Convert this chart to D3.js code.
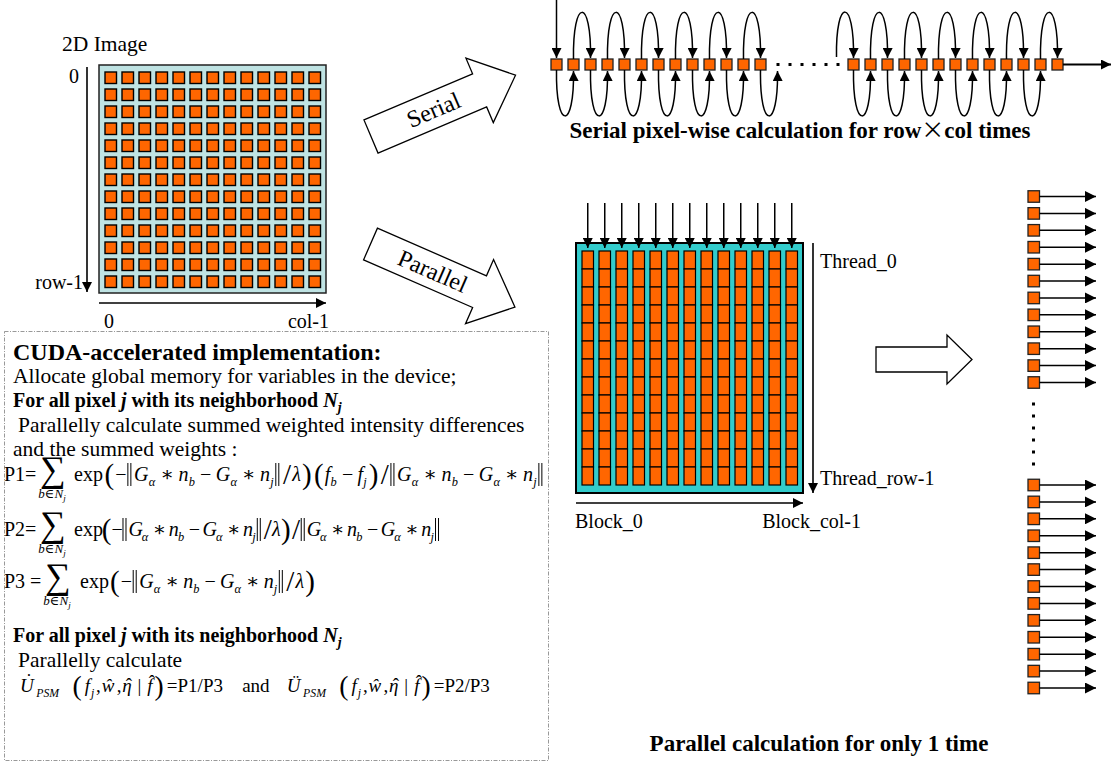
<!DOCTYPE html>
<html>
<head>
<meta charset="utf-8">
<script src="https://cdn.jsdelivr.net/npm/d3@7"></script>
<style>
body { margin: 0; background: #fff; }
svg text { font-family: "Liberation Serif", "Times New Roman", "DejaVu Serif", serif; fill: #000; }
</style>
</head>
<body>
<svg id="fig" width="1112" height="763"></svg>
<script>
// ---- diagram content ----
const imageRows = [0, 1, 2, 3, 4, 5, 6, 7, 8, 9, 10, 11, 12]
const imageCols = [0, 1, 2, 3, 4, 5, 6, 7, 8, 9, 10, 11, 12]
const serialPixels = [0, 1, 2, 3, 4, 5, 6, 7, 8, 9, 10, 11, 12]
const serialGroups = ['first', 'last']
const serialDots = [0, 1, 2, 3, 4, 5]
const blockCols = [0, 1, 2, 3, 4, 5, 6, 7, 8, 9, 10, 11, 12]
const threadRows = [0, 1, 2, 3, 4, 5, 6, 7, 8, 9, 10, 11, 12]
const outputTop = [0, 1, 2, 3, 4, 5, 6, 7, 8, 9, 10, 11]
const outputBottom = [0, 1, 2, 3, 4, 5, 6, 7, 8, 9, 10, 11, 12]
const outputDots = [0, 1, 2, 3, 4, 5]

const imageLabels = ['2D Image', '0', 'row-1', '0', 'col-1']
const threadLabels = ['Thread_0', 'Thread_row-1']
const blockLabels = ['Block_0', 'Block_col-1']
const flowLabels = ['Serial', 'Parallel']
const serialCaption = ['Serial pixel-wise calculation for row', '\u00d7', 'col times']
const parallelCaption = 'Parallel calculation for only 1 time'

const textLines = [
  'CUDA-accelerated implementation:',
  'Allocate global memory for variables in the device;',
  'Parallelly calculate summed weighted intensity differences',
  'and the summed weights :',
  'Parallelly calculate'
]

// formula tokens: [text, kind, accent, accent lift]
const normDiff = [['G','i'],['\u03b1','s'],['\u2217','op'],['n','i'],['b','s'],['\u2212','op'],['G','i'],['\u03b1','s'],['\u2217','op'],['n','i'],['j','s']]
const p1Tokens = [['exp','r'],['(','big'],['\u2212','r'],['','norm']].concat(normDiff,
  [['','norm'],['/','big'],['\u03bb','i'],[')','big'],['(','big'],['f','i'],['b','s'],['\u2212','op'],['f','i'],['j','s'],[')','big'],['/','big'],['','norm']],
  normDiff, [['','norm']])
const p2Tokens = [['exp','r'],['(','big'],['\u2212','r'],['','norm']].concat(normDiff,
  [['','norm'],['/','big'],['\u03bb','i'],[')','big'],['/','big'],['','norm']], normDiff, [['','norm']])
const p3Tokens = [['exp','r'],['(','big'],['\u2212','r'],['','norm']].concat(normDiff,
  [['','norm'],['/','big'],['\u03bb','i'],[')','big']])
const uArgs = [['(','big'],['f','i'],['j','s'],[',','r'],['\u0175','i'],[',','r'],['\u03b7','i','\u02c6',1],['|','op'],['f','i','\u02c6',4],[')','big']]
const uTokens = [['U','i','\u02d9',5],['PSM','s'],['','gap']].concat(uArgs,
  [['=P1/P3','r'],['and','pad'],['\u00dc','i'],['PSM','s'],['','gap']], uArgs, [['=P2/P3','r']])
const sumNames = ['P1=', 'P2=', 'P3 = ']

// ---- drawing ----
const svg = d3.select('#fig')
const orange = '#ff6600'

const defs = svg.append('defs')
function marker(id, w, l) {
  defs.append('marker')
    .attr('id', id)
    .attr('viewBox', '0 0 10 10')
    .attr('refX', 10).attr('refY', 5)
    .attr('markerUnits', 'userSpaceOnUse')
    .attr('markerWidth', l).attr('markerHeight', w)
    .attr('orient', 'auto')
    .append('path').attr('d', 'M0,0L10,5L0,10Z').attr('fill', '#000')
}
marker('loop', 10, 11)
marker('big', 10, 12)
marker('out', 11, 11)

function arrowLine(g, x1, y1, x2, y2, m, w) {
  g.append('line')
    .attr('x1', x1).attr('y1', y1).attr('x2', x2).attr('y2', y2)
    .attr('stroke', '#000').attr('stroke-width', w || 1.5)
    .attr('marker-end', `url(#${m})`)
}

// 2D image
const imgX = d3.scaleLinear().domain([0, 12]).range([105, 309])
const imgY = d3.scaleLinear().domain([0, 12]).range([72, 276])
const image = svg.append('g')
image.append('rect').attr('x', 99).attr('y', 65).attr('width', 227).attr('height', 228)
  .attr('fill', '#bfe3e3').attr('stroke', '#222').attr('stroke-width', 1.5)
image.selectAll('g.row').data(imageRows).enter().append('g')
  .selectAll('rect').data(r => imageCols.map(c => [r, c])).enter().append('rect')
  .attr('x', d => imgX(d[1])).attr('y', d => imgY(d[0]))
  .attr('width', 11.5).attr('height', 11.5)
  .attr('fill', orange).attr('stroke', '#000').attr('stroke-width', 1.4)
arrowLine(image, 87, 67, 87, 292, 'big', 1.6)
arrowLine(image, 99, 303, 326, 303, 'big', 1.6)
image.append('text').attr('x', 62).attr('y', 51).style('font-size', '21.5px').text(imageLabels[0])
image.append('text').attr('x', 79).attr('y', 83).attr('text-anchor', 'end').style('font-size', '20px').text(imageLabels[1])
image.append('text').attr('x', 83).attr('y', 289).attr('text-anchor', 'end').style('font-size', '20px').text(imageLabels[2])
image.append('text').attr('x', 104).attr('y', 328).style('font-size', '20px').text(imageLabels[3])
image.append('text').attr('x', 329).attr('y', 328).attr('text-anchor', 'end').style('font-size', '20px').text(imageLabels[4])

// hollow flow arrows
function hollowArrow(label, cx, cy, angle, L, h1, h2, head, textT) {
  const g = svg.append('g').attr('transform', `translate(${cx},${cy}) rotate(${angle})`)
  const pts = [[0, -h1], [L - head, -h1], [L - head, -h2], [L, 0], [L - head, h2], [L - head, h1], [0, h1]]
  g.append('path').attr('d', d3.line()(pts) + 'Z')
    .attr('fill', '#fff').attr('stroke', '#000').attr('stroke-width', 1.3)
  g.append('text').attr('x', textT).attr('y', 8).attr('text-anchor', 'middle')
    .style('font-size', '24px').text(label)
}
hollowArrow(flowLabels[0], 371, 136.5, -23, 157, 18, 35, 39, 68)
hollowArrow(flowLabels[1], 370.5, 244, 23.6, 157.6, 17.3, 35, 38.6, 68)

// serial row
const serial = svg.append('g')
const groupX = [
  d3.scaleLinear().domain([0, 12]).range([551, 755]),
  d3.scaleLinear().domain([0, 12]).range([848, 1052])
]
const sq = 11, sTop = 59, sBot = 70
serialGroups.forEach((name, gi) => {
  const x = groupX[gi]
  const cx = i => x(i) + sq / 2
  serial.selectAll(`rect.${name}`).data(serialPixels).enter().append('rect')
    .attr('class', name)
    .attr('x', d => x(d)).attr('y', sTop).attr('width', sq).attr('height', sq)
    .attr('fill', orange).attr('stroke', '#222').attr('stroke-width', 1.3)
  const pairs = gi === 0 ? serialPixels : [-1].concat(serialPixels.slice(0, 12))
  pairs.forEach(i => {
    const top = Math.abs(i % 2) === 1
    const x1 = cx(i), x2 = cx(i + 1)
    const d = top
      ? `M${x1},${i < 0 ? sTop - 2 : sTop}C${x1 - 1},-3 ${x2 + 1},-3 ${x2},${sTop - 1}`
      : `M${x1},${sBot}C${x1 - 1},131 ${x2 + 1},131 ${x2},${sBot + 1}`
    serial.append('path').attr('d', d).attr('fill', 'none')
      .attr('stroke', '#000').attr('stroke-width', 1.5).attr('marker-end', 'url(#loop)')
  })
})
arrowLine(serial, groupX[0](0) + sq / 2, 0, groupX[0](0) + sq / 2, sTop - 1, 'loop')
arrowLine(serial, groupX[1](12) + sq, 64.5, 1111, 64.5, 'loop', 1.8)
const dotX = d3.scaleLinear().domain([0, 5]).range([778, 838])
serial.selectAll('rect.dot').data(serialDots).enter().append('rect')
  .attr('class', 'dot').attr('x', d => dotX(d) - 1.5).attr('y', 63).attr('width', 3).attr('height', 3).attr('fill', '#000')
const cap0 = svg.append('text').attr('x', 800).attr('y', 138).attr('text-anchor', 'middle')
  .style('font-size', '23px').style('font-weight', 'bold')
cap0.append('tspan').text(serialCaption[0])
cap0.append('tspan').style('font-family', '"Noto Sans CJK SC", sans-serif').style('font-weight', 'normal').text(serialCaption[1])
cap0.append('tspan').text(serialCaption[2])

// parallel grid
const par = svg.append('g')
const blockX = d3.scaleLinear().domain([0, 12]).range([582, 786])
const threadY = d3.scaleLinear().domain([0, 13]).range([251, 485])
par.append('rect').attr('x', 576).attr('y', 243).attr('width', 227).attr('height', 250)
  .attr('fill', '#33cccc').attr('stroke', '#000').attr('stroke-width', 2)
blockCols.forEach(c => {
  par.selectAll(`rect.c${c}`).data(threadRows).enter().append('rect')
    .attr('x', blockX(c)).attr('y', d => threadY(d))
    .attr('width', 11.5).attr('height', threadY(1) - threadY(0))
    .attr('fill', orange).attr('stroke', '#000').attr('stroke-width', 1.2)
  arrowLine(par, blockX(c) + 5.75, 203, blockX(c) + 5.75, 248, 'big', 1.5)
})
arrowLine(par, 813, 243, 813, 493, 'big', 1.6)
arrowLine(par, 576, 503, 803, 503, 'big', 1.6)
par.append('text').attr('x', 820).attr('y', 268).style('font-size', '20px').text(threadLabels[0])
par.append('text').attr('x', 820).attr('y', 485).style('font-size', '20px').text(threadLabels[1])
par.append('text').attr('x', 575).attr('y', 528).style('font-size', '20px').text(blockLabels[0])
par.append('text').attr('x', 861).attr('y', 528).attr('text-anchor', 'end').style('font-size', '20px').text(blockLabels[1])

// big right arrow
svg.append('path')
  .attr('d', d3.line()([[876, 347], [947, 347], [947, 335], [972, 359.5], [947, 384], [947, 372], [876, 372]]) + 'Z')
  .attr('fill', '#fff').attr('stroke', '#000').attr('stroke-width', 1.3)

// output column
const out = svg.append('g')
const topY = d3.scaleLinear().domain([0, 11]).range([196.5, 382.5])
const botY = d3.scaleLinear().domain([0, 12]).range([485, 688])
function outputs(data, y) {
  data.forEach(d => {
    out.append('rect').attr('x', 1028).attr('y', y(d) - 5.75).attr('width', 11.5).attr('height', 11.5)
      .attr('fill', orange).attr('stroke', '#222').attr('stroke-width', 1.3)
    arrowLine(out, 1039.5, y(d), 1096, y(d), 'out', 1.5)
  })
}
outputs(outputTop, topY)
outputs(outputBottom, botY)
const oDotY = d3.scaleLinear().domain([0, 5]).range([404, 464])
out.selectAll('rect.dot').data(outputDots).enter().append('rect')
  .attr('x', 1032).attr('y', d => oDotY(d) - 1.5).attr('width', 3).attr('height', 3).attr('fill', '#000')
svg.append('text').attr('x', 819).attr('y', 751).attr('text-anchor', 'middle')
  .style('font-size', '23px').style('font-weight', 'bold').text(parallelCaption)

// text box
const box = svg.append('g')
box.append('rect').attr('x', 4.5).attr('y', 331.5).attr('width', 544).attr('height', 429)
  .attr('fill', 'none').attr('stroke', '#999').attr('stroke-width', 1).attr('stroke-dasharray', '4,1.5,1,1.5')

function plain(x, y, s, size, bold) {
  return box.append('text').attr('x', x).attr('y', y).style('font-size', size + 'px')
    .style('font-weight', bold ? 'bold' : 'normal').text(s)
}
function forAll(y) {
  const t = box.append('text').attr('x', 13).attr('y', y).style('font-size', '20px').style('font-weight', 'bold')
  t.append('tspan').text('For all pixel ')
  t.append('tspan').style('font-style', 'italic').text('j')
  t.append('tspan').text(' with its neighborhood ')
  t.append('tspan').style('font-style', 'italic').text('N')
  t.append('tspan').style('font-style', 'italic').style('font-size', '14px').attr('dy', 5).text('j')
  return t
}
plain(13, 360, textLines[0], 24, true)
plain(13, 383, textLines[1], 21.5, false)
forAll(407)
plain(18, 432, textLines[2], 21.5, false)
plain(13, 456, textLines[3], 21.5, false)
forAll(642)
plain(18, 667, textLines[4], 21.5, false)

// formula layout: tokens placed left to right, then gaps stretched to span the target width
function mathLine(x0, y, tokens, xEnd, base) {
  base = base || 20
  const g = box.append('g')
  let x = x0
  const items = []
  tokens.forEach(([s, kind, acc, lift]) => {
    const tg = g.append('g').attr('transform', `translate(${x},0)`)
    let w = 0
    let pre = 0, post = 0
    if (kind === 'norm') {
      [0, 3].forEach(o => tg.append('line').attr('x1', o + 1).attr('x2', o + 1).attr('y1', y - 18).attr('y2', y + 5)
        .attr('stroke', '#000').attr('stroke-width', 1))
      w = 5; pre = 1; post = 1
    } else if (kind === 'gap') {
      w = 6
    } else {
      const t = tg.append('text').attr('y', y).text(s)
      if (kind === 'big') { t.style('font-size', (base * 1.45) + 'px').attr('y', y + 3); pre = 1; post = 1 }
      else if (kind === 's') { t.style('font-size', (base * 0.62) + 'px').style('font-style', 'italic').attr('y', y + 5); post = 1 }
      else if (kind === 'i') { t.style('font-size', base + 'px').style('font-style', 'italic') }
      else { t.style('font-size', base + 'px') }
      if (kind === 'op') { pre = 4; post = 4 }
      if (kind === 'pad') { pre = 9; post = 9 }
      t.attr('x', pre)
      w = t.node().getComputedTextLength()
      if (acc) {
        tg.append('text').attr('x', pre + w / 2 + 2).attr('y', y - (lift || 0)).attr('text-anchor', 'middle')
          .style('font-size', base + 'px').text(acc)
      }
    }
    items.push({ tg, x })
    x += pre + w + post
  })
  if (xEnd) {
    const k = (xEnd - x0) / (x - x0)
    items.forEach(it => it.tg.attr('transform', `translate(${x0 + (it.x - x0) * k},0)`))
  }
}
function sumLine(name, y, tokens, sumX, expX, xEnd) {
  box.append('text').attr('x', 4).attr('y', y).style('font-size', '20px').attr('xml:space', 'preserve').text(name)
  box.append('text').attr('x', sumX).attr('y', y).style('font-size', '36px').text('\u2211')
  const sub = box.append('text').attr('x', sumX + 12).attr('y', y + 17).attr('text-anchor', 'middle')
    .style('font-size', '13px').style('font-style', 'italic')
  sub.append('tspan').text('b\u2208N')
  sub.append('tspan').attr('dy', 3).style('font-size', '9px').text('j')
  mathLine(expX, y, tokens, xEnd)
}
sumLine(sumNames[0], 481, p1Tokens, 40, 74, 545)
sumLine(sumNames[1], 536, p2Tokens, 40, 74, 441)
sumLine(sumNames[2], 588, p3Tokens, 45, 80, 316)
mathLine(20, 692, uTokens, 500, 19)
</script>
</body>
</html>
